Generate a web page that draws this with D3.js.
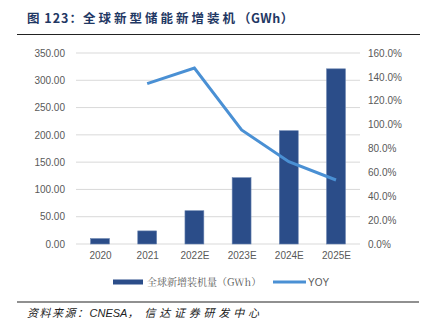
<!DOCTYPE html>
<html><head><meta charset="utf-8">
<script src="https://cdn.jsdelivr.net/npm/d3@7"></script>
<style>body{margin:0;background:#fff}svg{display:block}</style>
</head><body>
<script>
const categories = ["2020","2021","2022E","2023E","2024E","2025E"];
const installed = [10, 24, 61, 121.5, 207.6, 321];
const yoy = [null, 134.3, 147.4, 95.5, 68.9, 53.6];
const leftTicks = [0,50,100,150,200,250,300,350];
const rightTicks = [0,20,40,60,80,100,120,140,160];
const titleParts = [["图 123：",1],["全球新型储能新增装机",3],["（GWh）",0.5]];
const sourceParts = [["资料来源：",1.5],["CNESA",0],["，",6],["信达证券研发中心",3.8]];
const legendLabels = ["全球新增装机量（GWh）","YOY"];

const W=422,H=330;
const svg=d3.select("body").append("svg").attr("width",W).attr("height",H);
const x=d3.scaleBand().domain(categories).range([76.4,359.6]).paddingInner(0.6).paddingOuter(0.3);
const xp=d3.scalePoint().domain(categories).range([76.4,359.6]).padding(0.5);
const yL=d3.scaleLinear().domain([0,350]).range([244,53]);
const yR=d3.scaleLinear().domain([0,160]).range([244,53]);

// title
svg.append("text").attr("x",27).attr("y",23).attr("font-family","'Noto Sans CJK SC',sans-serif")
  .attr("font-weight","bold").attr("font-size",12.5).attr("fill","#1F3864")
  .selectAll("tspan").data(titleParts).join("tspan").attr("letter-spacing",d=>d[1]).text(d=>d[0]);
svg.append("line").attr("x1",17).attr("x2",420).attr("y1",34.5).attr("y2",34.5).attr("stroke","#222").attr("stroke-width",1.2);

// gridlines
svg.append("g").selectAll("line").data(leftTicks).join("line")
  .attr("x1",76).attr("x2",360).attr("y1",d=>yL(d)).attr("y2",d=>yL(d))
  .attr("stroke","#d9d9d9").attr("stroke-width",1);

// left axis
const gl=svg.append("g").attr("transform","translate(76,0)")
  .call(d3.axisLeft(yL).tickValues(leftTicks).tickFormat(d3.format(".2f")).tickSize(0).tickPadding(11));
gl.select(".domain").remove();
gl.selectAll("text").attr("font-family","Liberation Sans, Arial, sans-serif").attr("font-size",10).attr("fill","#595959");

// right axis
const gr=svg.append("g").attr("transform","translate(360,0)")
  .call(d3.axisRight(yR).tickValues(rightTicks).tickFormat(d=>d.toFixed(1)+"%").tickSize(0).tickPadding(8));
gr.select(".domain").remove();
gr.selectAll("text").attr("font-family","Liberation Sans, Arial, sans-serif").attr("font-size",10).attr("fill","#595959");

// x axis
const gx=svg.append("g").attr("transform","translate(0,244)")
  .call(d3.axisBottom(xp).tickSize(0).tickPadding(8));
gx.select(".domain").remove();
gx.selectAll("text").attr("font-family","Liberation Sans, Arial, sans-serif").attr("font-size",10).attr("fill","#595959");

// bars
svg.append("g").selectAll("rect").data(installed).join("rect")
  .attr("x",(d,i)=>x(categories[i])).attr("width",x.bandwidth())
  .attr("y",d=>yL(d)).attr("height",d=>yL(0)-yL(d))
  .attr("fill","#2B4D89").attr("stroke","#6a84b0").attr("stroke-width",0.6);

// line
const pts=categories.map((c,i)=>({c,v:yoy[i]})).filter(d=>d.v!=null);
svg.append("path").datum(pts).attr("fill","none").attr("stroke","#4A90D4").attr("stroke-width",3)
  .attr("stroke-linejoin","miter")
  .attr("d",d3.line().x(d=>xp(d.c)).y(d=>yR(d.v)));

// legend
const lg=svg.append("g");
lg.append("rect").attr("x",113).attr("y",279.5).attr("width",30).attr("height",5).attr("fill","#2B4D89");
lg.append("text").attr("x",147).attr("y",285.5).attr("font-family","'Noto Serif CJK SC','Noto Sans CJK SC',serif")
  .attr("font-size",10).attr("fill","#595959").text(legendLabels[0]);
lg.append("line").attr("x1",273).attr("x2",306).attr("y1",282).attr("y2",282).attr("stroke","#4A90D4").attr("stroke-width",3);
lg.append("text").attr("x",308).attr("y",285.5).attr("font-family","Liberation Sans, Arial, sans-serif")
  .attr("font-size",10).attr("fill","#595959").text(legendLabels[1]);

// source
svg.append("line").attr("x1",17).attr("x2",419).attr("y1",302).attr("y2",302).attr("stroke","#222").attr("stroke-width",1.2);
svg.append("text").attr("x",27).attr("y",317).attr("font-family","'Noto Sans CJK SC',sans-serif")
  .attr("font-style","italic").attr("font-size",11).attr("fill","#222")
  .selectAll("tspan").data(sourceParts).join("tspan").attr("letter-spacing",d=>d[1])
  .attr("font-family",d=>d[0]==="CNESA"?"Liberation Sans, Arial, sans-serif":null).text(d=>d[0]);
</script>
</body></html>
